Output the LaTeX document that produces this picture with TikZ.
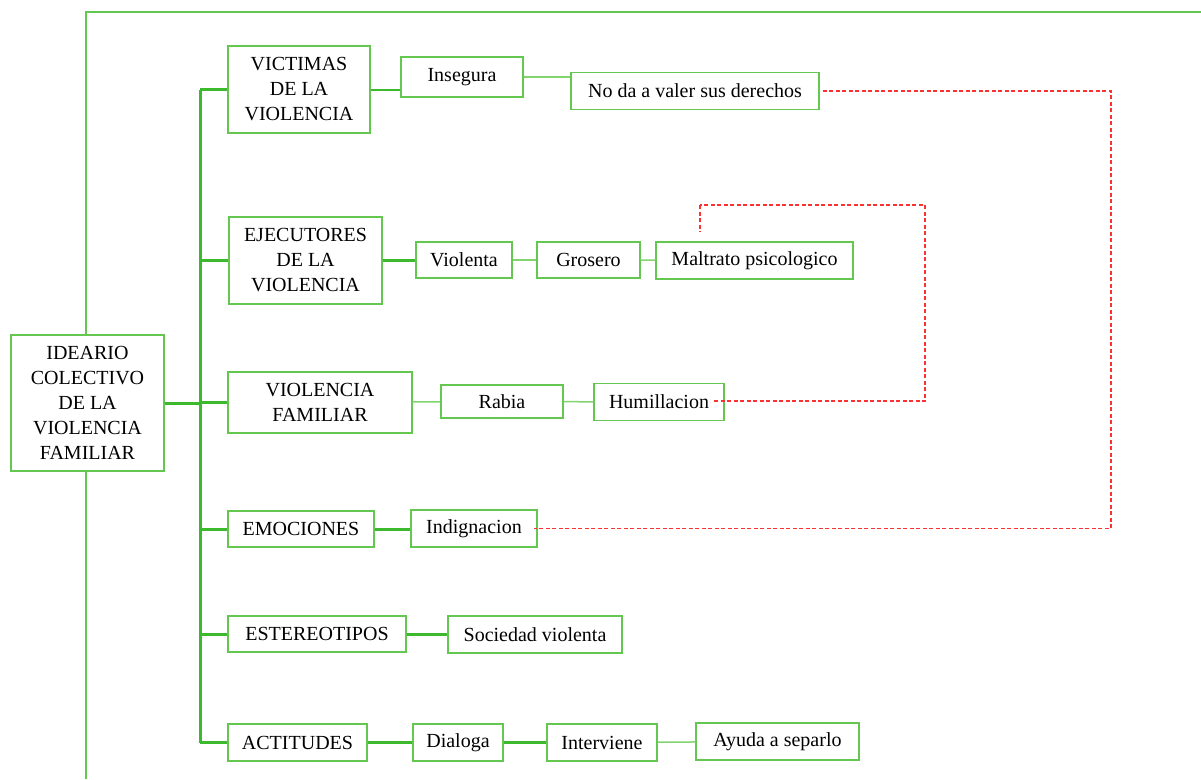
\documentclass[tikz,border=0pt]{standalone}
\usepackage{xcolor}
\usepackage{fontspec}
\setmainfont{Liberation Serif}
\usepackage{tikz}

\definecolor{boxgreen}{RGB}{100,200,80}
\definecolor{stemgreen}{RGB}{60,185,45}
\definecolor{twiggreen}{RGB}{130,212,110}
\definecolor{linkred}{RGB}{250,50,50}

\begin{document}
\begin{tikzpicture}[x=1pt,y=-1pt,
	caja/.style={draw=boxgreen, line width=1.4pt, fill=white, inner sep=0pt, align=center, font=\rmfamily\fontsize{20}{25}\selectfont},
	tronco/.style={draw=stemgreen, line width=3pt},
	rama/.style={draw=twiggreen, line width=1.5pt},
	enlace/.style={draw=linkred, line width=1.5pt, dash pattern=on 4pt off 2.5pt}]

			\useasboundingbox (0,0) rectangle (1201,779);

			% marco
			\draw [boxgreen, line width=1.4pt] (86,779) -- (86,12) -- (1203,12);

			\node [caja, minimum width=153pt, minimum height=136pt] (ideario) at (87.5,403) {IDEARIO\\COLECTIVO\\DE LA\\VIOLENCIA\\FAMILIAR};

			\node [caja, minimum width=142pt, minimum height=87pt] (victimas) at (299,89.5) {VICTIMAS\\DE LA\\VIOLENCIA};
			\node [caja, minimum width=122pt, minimum height=40pt] (insegura) at (462,77) {Insegura};
			\node [caja, minimum width=248pt, minimum height=37pt] (noda) at (695,91) {No da a valer sus derechos};

			\node [caja, minimum width=153pt, minimum height=87pt] (ejecutores) at (305.5,260.5) {EJECUTORES\\DE LA\\VIOLENCIA};
			\node [caja, minimum width=96pt, minimum height=36pt] (violenta) at (464,260) {Violenta};
			\node [caja, minimum width=103pt, minimum height=36pt] (grosero) at (588.5,260) {Grosero};
			\node [caja, minimum width=197pt, minimum height=37pt] (maltrato) at (754.5,260.5) {Maltrato psicologico};

			\node [caja, minimum width=184pt, minimum height=61pt] (vfamiliar) at (320,402.5) {VIOLENCIA\\FAMILIAR};
			\node [caja, minimum width=122pt, minimum height=33pt] (rabia) at (502,401.5) {Rabia};
			\node [caja, minimum width=130pt, minimum height=37pt] (humillacion) at (659,402) {Humillacion};

			\node [caja, minimum width=146pt, minimum height=36pt] (emociones) at (301,529) {EMOCIONES};
			\node [caja, minimum width=126pt, minimum height=37pt] (indignacion) at (474,528.5) {Indignacion};

			\node [caja, minimum width=178pt, minimum height=36pt] (estereotipos) at (317,634) {ESTEREOTIPOS};
			\node [caja, minimum width=174pt, minimum height=37pt] (sociedad) at (535,634.5) {Sociedad violenta};

			\node [caja, minimum width=139pt, minimum height=37pt] (actitudes) at (297.5,742.5) {ACTITUDES};
			\node [caja, minimum width=90pt, minimum height=37pt] (dialoga) at (458,742.5) {Dialoga};
			\node [caja, minimum width=110pt, minimum height=37pt] (interviene) at (602,742.5) {Interviene};
			\node [caja, minimum width=163pt, minimum height=37pt] (ayuda) at (777.5,741.5) {Ayuda a separlo};

			% tronco
			\coordinate (arriba) at (200,89.5);
			\coordinate (abajo) at (200,742.5);
			\draw [tronco] (arriba) -- (abajo);
			\draw [tronco] (ideario.east) -- (ideario.east -| arriba);

			\foreach \n in {victimas, ejecutores, vfamiliar, emociones, estereotipos, actitudes} {
				\draw [tronco] (\n.west) -- (\n.west -| arriba);
			}

			% ramas
			\draw [tronco, line width=2pt] (victimas.east) -- (victimas.east -| insegura.west);
			\draw [rama] (insegura.east) -- (insegura.east -| noda.west);
			\draw [tronco] (ejecutores.east) -- (ejecutores.east -| violenta.west);
			\draw [rama] (violenta) -- (grosero);
			\draw [rama] (grosero) -- (maltrato);
			\draw [rama] (vfamiliar) -- (rabia);
			\draw [rama] (rabia) -- (humillacion);
			\draw [tronco] (emociones.east) -- (emociones.east -| indignacion.west);
			\draw [tronco] (estereotipos.east) -- (estereotipos.east -| sociedad.west);
			\draw [tronco] (actitudes) -- (dialoga);
			\draw [tronco] (dialoga) -- (interviene);
			\draw [rama] (interviene) -- (ayuda);

			% enlaces rojos
			\coordinate (esquinaA) at (1111,91);
			\draw [enlace, shorten <=3pt, shorten >=-4pt] (noda.east) -- (esquinaA) -- (esquinaA |- indignacion.east) -- (indignacion.east);

			\coordinate (salida) at (714,401);
			\coordinate (esquinaB) at (925,205);
			\coordinate (punta) at (700,205);
			\coordinate (pie) at (700,232);
			\draw [enlace] (salida) -- (salida -| esquinaB) -- (esquinaB) -- (punta);
			\draw [enlace, line width=2.5pt] (punta) -- (pie);
		\end{tikzpicture}
\end{document}
